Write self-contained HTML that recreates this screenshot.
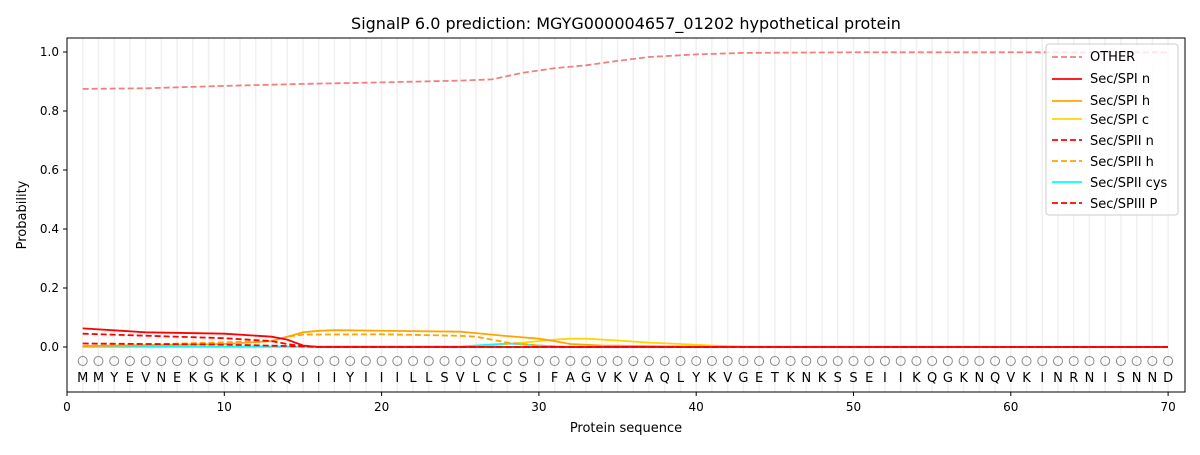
<!DOCTYPE html>
<html><head><style>body{margin:0;background:#fff}svg text{font-family:"DejaVu Sans","Liberation Sans",sans-serif}</style></head><body>
<svg width="1200" height="450" xmlns="http://www.w3.org/2000/svg">
<rect width="1200" height="450" fill="#fff"/>
<g id="grid" stroke="#f0f0f0" stroke-width="1.5"></g>
<g fill="none" stroke-width="1.8">
<polyline stroke="#f08080" stroke-dasharray="6,3" points="82.7,88.9 145.7,88.3 224.3,85.9 303,83.9 381.6,82.4 460.3,80.6 491.7,79.4 523.2,72.7 554.6,68.2 586.1,65.3 617.6,60.9 649,57 696.2,54.4 743.4,52.9 853.5,52.3 1168,52.3"/>
<polyline stroke="#ffd700" points="82.7,347 460.3,347 491.7,345.5 523.2,342.6 554.6,339.6 570.3,338.7 586.1,338.7 617.6,340.5 649,342.6 680.5,344 711.9,345.5 743.4,346.7 1168,347"/>
<polyline stroke="#00ffff" points="82.7,346.5 460.3,346.5 507.5,343.5 538.9,345.5 570.3,347 1168,347"/>
<polyline stroke="#ffa500" points="82.7,346.1 224.3,344 271.5,341.1 287.2,336.7 303,332.3 318.7,330.8 334.4,330.2 460.3,331.7 476,333.1 507.5,336.1 538.9,338.7 554.6,341.1 570.3,344 601.8,345.5 696.2,346.7 1168,347"/>
<polyline stroke="#ffa500" stroke-dasharray="6,3" points="82.7,346.1 271.5,341.1 287.2,336.7 303,334.6 381.6,334.3 460.3,335.8 476,336.7 491.7,339.6 507.5,342.6 538.9,345.5 570.3,347 1168,347"/>
<polyline stroke="#ff0000" points="82.7,328.4 145.7,332.3 224.3,333.7 271.5,336.7 287.2,339.6 303,345.5 318.7,347 1168,347"/>
<polyline stroke="#ff0000" stroke-dasharray="6,3" points="82.7,333.7 224.3,338.2 271.5,341.1 287.2,344 303,346.4 318.7,347 1168,347"/>
<polyline stroke="#ff0000" stroke-dasharray="6,3" points="82.7,343.5 224.3,344.6 303,346.4 318.7,347 1168,347"/>
</g>
<g id="seq" font-size="13" text-anchor="middle"></g>
<rect x="67" y="38" width="1118" height="354" fill="none" stroke="#000" stroke-width="1"/>
<g font-size="12" text-anchor="end" fill="#000">
<text x="59" y="56">1.0</text><text x="59" y="115">0.8</text><text x="59" y="174">0.6</text><text x="59" y="233">0.4</text><text x="59" y="292">0.2</text><text x="59" y="351">0.0</text>
</g>
<g stroke="#000"><line x1="63" x2="67" y1="52" y2="52"/><line x1="63" x2="67" y1="111" y2="111"/><line x1="63" x2="67" y1="170" y2="170"/><line x1="63" x2="67" y1="229" y2="229"/><line x1="63" x2="67" y1="288" y2="288"/><line x1="63" x2="67" y1="347" y2="347"/></g>
<g id="xt" font-size="12" text-anchor="middle"></g>
<text x="626" y="432" font-size="13" text-anchor="middle">Protein sequence</text>
<text x="26" y="215" font-size="13" text-anchor="middle" transform="rotate(-90 26 215)">Probability</text>
<text x="626" y="29" font-size="16" text-anchor="middle">SignalP 6.0 prediction: MGYG000004657_01202 hypothetical protein</text>
<g>
<rect x="1046" y="44" width="132" height="171" rx="3" fill="#fff" fill-opacity="0.8" stroke="#ccc"/>
<g stroke-width="1.8" fill="none">
<line x1="1052" x2="1082" y1="57" y2="57" stroke="#f08080" stroke-dasharray="6,3"/>
<line x1="1052" x2="1082" y1="79" y2="79" stroke="#ff0000"/>
<line x1="1052" x2="1082" y1="101" y2="101" stroke="#ffa500"/>
<line x1="1052" x2="1082" y1="119" y2="119" stroke="#ffd700"/>
<line x1="1052" x2="1082" y1="140" y2="140" stroke="#ff0000" stroke-dasharray="6,3"/>
<line x1="1052" x2="1082" y1="161" y2="161" stroke="#ffa500" stroke-dasharray="6,3"/>
<line x1="1052" x2="1082" y1="182" y2="182" stroke="#00ffff"/>
<line x1="1052" x2="1082" y1="203" y2="203" stroke="#ff0000" stroke-dasharray="6,3"/>
</g>
<g font-size="13">
<text x="1090" y="61">OTHER</text><text x="1090" y="83">Sec/SPI n</text><text x="1090" y="105">Sec/SPI h</text><text x="1090" y="124">Sec/SPI c</text><text x="1090" y="145">Sec/SPII n</text><text x="1090" y="166">Sec/SPII h</text><text x="1090" y="187">Sec/SPII cys</text><text x="1090" y="208">Sec/SPIII P</text>
</g></g>
<script>
var s="MMYEVNEKGKKIKQIIIYIIILLSVLCCSIFAGVKVAQLYKVGETKNKSSEIIKQGKNQVKINRNISNND",ns="http://www.w3.org/2000/svg";
var g=document.getElementById("grid"),q=document.getElementById("seq"),xt=document.getElementById("xt");
for(var i=1;i<=70;i++){var x=67+15.73*i;
var l=document.createElementNS(ns,"line");l.setAttribute("x1",x);l.setAttribute("x2",x);l.setAttribute("y1",38);l.setAttribute("y2",392);g.appendChild(l);
var c=document.createElementNS(ns,"circle");c.setAttribute("cx",x);c.setAttribute("cy",361);c.setAttribute("r",4.5);c.setAttribute("fill","none");c.setAttribute("stroke","#888");q.appendChild(c);
var t=document.createElementNS(ns,"text");t.setAttribute("x",x);t.setAttribute("y",382);t.textContent=s[i-1];q.appendChild(t);}
for(var v=0;v<=70;v+=10){var x=67+15.73*v;
var l=document.createElementNS(ns,"line");l.setAttribute("x1",x);l.setAttribute("x2",x);l.setAttribute("y1",392);l.setAttribute("y2",396);l.setAttribute("stroke","#000");xt.appendChild(l);
var t=document.createElementNS(ns,"text");t.setAttribute("x",x);t.setAttribute("y",411);t.textContent=v;xt.appendChild(t);}
</script>
</svg>
</body></html>
